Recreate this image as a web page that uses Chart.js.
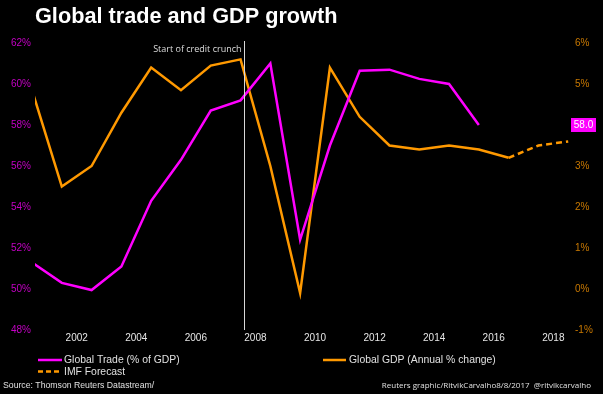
<!DOCTYPE html>
<html>
<head>
<meta charset="utf-8">
<script src="https://cdn.jsdelivr.net/npm/chart.js@4.4.1/dist/chart.umd.min.js"></script>
<style>
  body { margin: 0; background: #000; }
  canvas { display: block; }
</style>
</head>
<body>
<canvas id="trade-chart" width="603" height="394"></canvas>
<script>
const tradeChart = document.getElementById("trade-chart");

// annual data, plotted at mid-year
const years = [2000, 2001, 2002, 2003, 2004, 2005, 2006, 2007, 2008, 2009, 2010, 2011, 2012, 2013, 2014, 2015, 2016, 2017, 2018];
const tradeShare = [51.3, 50.3, 49.95, 51.1, 54.3, 56.3, 58.7, 59.2, 61.0, 52.4, 57.0, 60.65, 60.7, 60.25, 60.0, 58.0, null, null, null];
const gdpGrowth = [4.85, 2.5, 3.0, 4.3, 5.4, 4.85, 5.45, 5.6, 3.0, -0.1, 5.4, 4.2, 3.5, 3.4, 3.5, 3.4, 3.2, null, null];
const imfForecast = [null, null, null, null, null, null, null, null, null, null, null, null, null, null, null, null, 3.2, 3.5, 3.6];

const yearTicks = [2002, 2004, 2006, 2008, 2010, 2012, 2014, 2016, 2018];
const tradeTicks = [48, 50, 52, 54, 56, 58, 60, 62];
const gdpTicks = [-1, 0, 1, 2, 3, 4, 5, 6];
const crunchStart = 2007.6;

const MAGENTA = "#ff00ff";
const ORANGE = "#ff9900";

function points(values) {
  return years.map((yr, i) => ({ x: yr + 0.5, y: values[i] }));
}

function lastValue(values) {
  for (let i = values.length - 1; i >= 0; i--) {
    if (values[i] !== null) return values[i];
  }
  return null;
}

const extras = {
  id: "extras",
  afterDatasetsDraw(chart) {
    const ctx = chart.ctx;
    const area = chart.chartArea;
    const cx = Math.round(chart.scales.x.getPixelForValue(crunchStart)) + 0.5;
    ctx.save();
    ctx.strokeStyle = "#d8d8d8";
    ctx.lineWidth = 1;
    ctx.beginPath();
    ctx.moveTo(cx, 41);
    ctx.lineTo(cx, area.bottom);
    ctx.stroke();
    ctx.fillStyle = "#dddddd";
    ctx.font = '9px "Open Sans"';
    ctx.textAlign = "right";
    ctx.textBaseline = "middle";
    ctx.fillText("Start of credit crunch", cx - 3, 49);
    ctx.restore();
  },
  afterDraw(chart) {
    const ctx = chart.ctx;
    ctx.save();

    // title
    ctx.fillStyle = "#ffffff";
    ctx.font = 'bold 21.7px "Liberation Sans"';
    ctx.textAlign = "left";
    ctx.textBaseline = "alphabetic";
    ctx.fillText("Global trade and GDP growth", 35, 23);

    // last value tag
    const last = lastValue(tradeShare);
    const by = chart.scales.y.getPixelForValue(last);
    ctx.fillStyle = MAGENTA;
    ctx.fillRect(571, Math.round(by) - 7, 25, 14);
    ctx.fillStyle = "#ffffff";
    ctx.font = '10px "Liberation Sans"';
    ctx.textAlign = "center";
    ctx.textBaseline = "middle";
    ctx.fillText(last.toFixed(1), 583.5, Math.round(by));

    // legend
    ctx.lineWidth = 2.5;
    ctx.strokeStyle = MAGENTA;
    ctx.beginPath(); ctx.moveTo(38, 360); ctx.lineTo(62, 360); ctx.stroke();
    ctx.strokeStyle = ORANGE;
    ctx.beginPath(); ctx.moveTo(323, 360); ctx.lineTo(346, 360); ctx.stroke();
    ctx.setLineDash([5, 3]);
    ctx.beginPath(); ctx.moveTo(38, 371.5); ctx.lineTo(62, 371.5); ctx.stroke();
    ctx.setLineDash([]);

    ctx.fillStyle = "#e0e0e0";
    ctx.font = '10.4px "Liberation Sans"';
    ctx.textAlign = "left";
    ctx.fillText("Global Trade (% of GDP)", 64, 360.5);
    ctx.fillText("Global GDP (Annual % change)", 349, 360.5);
    ctx.fillText("IMF Forecast", 64, 372);

    // footer
    ctx.font = '8.7px "Liberation Sans"';
    ctx.fillText("Source: Thomson Reuters Datastream/", 3, 386);
    ctx.font = '8px "Open Sans"';
    ctx.textAlign = "right";
    ctx.fillText("Reuters graphic/RitvikCarvalho8/8/2017  @ritvikcarvalho", 591, 386);
    ctx.restore();
  }
};

new Chart(tradeChart, {
  type: "line",
  data: {
    datasets: [
      {
        label: "Global Trade (% of GDP)",
        data: points(tradeShare),
        borderColor: MAGENTA,
        yAxisID: "y",
      },
      {
        label: "Global GDP (Annual % change)",
        data: points(gdpGrowth),
        borderColor: ORANGE,
        yAxisID: "y1",
      },
      {
        label: "IMF Forecast",
        data: points(imfForecast),
        borderColor: ORANGE,
        borderDash: [6, 4],
        yAxisID: "y1",
      },
    ],
  },
  options: {
    responsive: false,
    animation: false,
    devicePixelRatio: 1,
    layout: { padding: { top: 43 } },
    elements: {
      line: { borderWidth: 2.5, tension: 0 },
      point: { radius: 0 },
    },
    plugins: {
      legend: { display: false },
      tooltip: { enabled: false },
    },
    scales: {
      x: {
        type: "linear",
        min: 2000.6,
        max: 2018.56,
        grid: { display: false, drawTicks: false },
        border: { display: false },
        afterBuildTicks: (axis) => { axis.ticks = yearTicks.map((v) => ({ value: v })); },
        afterFit: (axis) => { axis.height = 64; },
        ticks: {
          color: "#e6e6e6",
          font: { family: "Liberation Sans", size: 10 },
          padding: 2,
          maxRotation: 0,
          callback: (v) => String(v),
        },
      },
      y: {
        position: "left",
        min: 48,
        max: 62,
        grid: { display: false, drawTicks: false },
        border: { display: false },
        afterBuildTicks: (axis) => { axis.ticks = tradeTicks.map((v) => ({ value: v })); },
        afterFit: (axis) => { axis.width = 35; },
        ticks: {
          color: "#c400c4",
          font: { family: "Liberation Sans", size: 10 },
          padding: 4,
          callback: (v) => v + "%",
        },
      },
      y1: {
        position: "right",
        min: -1,
        max: 6,
        grid: { display: false, drawTicks: false },
        border: { display: false },
        afterBuildTicks: (axis) => { axis.ticks = gdpTicks.map((v) => ({ value: v })); },
        afterFit: (axis) => { axis.width = 33; },
        ticks: {
          color: "#c87800",
          font: { family: "Liberation Sans", size: 10 },
          padding: 5,
          callback: (v) => v + "%",
        },
      },
    },
  },
  plugins: [extras],
});
</script>
</body>
</html>
